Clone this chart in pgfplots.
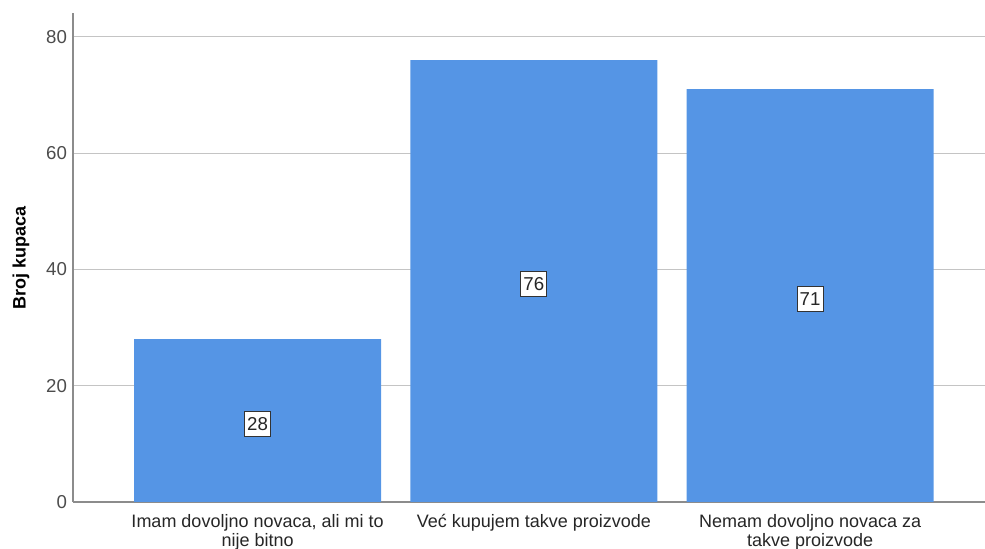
\documentclass[border=0pt]{standalone}
\usepackage{pgfplots}
\pgfplotsset{compat=1.18}
\usepackage{fontspec}
\setmainfont{Liberation Sans}
\definecolor{barblue}{HTML}{5595E5}
\definecolor{gridgray}{HTML}{C4C4C4}
\definecolor{axisgray}{HTML}{8C8C8C}

\begin{document}
\begin{tikzpicture}
\useasboundingbox (-54.75pt,-35.25pt) rectangle (684pt,376.5pt);
\begin{axis}[
  scale only axis,
  width=684pt, height=366.75pt,
  xmin=-0.668, xmax=2.633,
  ymin=0, ymax=84.1,
  axis lines*=left,
  axis line style={axisgray, line width=1pt},
  /pgf/number format/assume math mode=true,
  xtick={0,1,2},
  xticklabels={{Imam dovoljno novaca, ali mi to\\nije bitno},
               {Već kupujem takve proizvode},
               {Nemam dovoljno novaca za\\takve proizvode}},
  xticklabel style={align=center, font=\fontsize{13.5}{14.2}\selectfont, text=black!85, yshift=-5.5pt},
  ytick={0,20,40,60,80},
  yticklabel style={font=\fontsize{14}{14}\selectfont, text=black!70, xshift=-1pt},
  major tick length=0pt,
  ymajorgrids,
  grid style={gridgray, line width=0.8pt},
  ylabel={Broj kupaca},
  ylabel style={font=\fontsize{13.5}{13.5}\selectfont\bfseries, at={(axis description cs:-0.057,0.5)}, anchor=center},
]
\addplot[ybar, bar width=0.894, bar shift=0, fill=barblue, draw=none]
  coordinates {(0,28) (1,76) (2,71)};
\addplot[draw=none, mark=none, nodes near coords, point meta=explicit symbolic,
  nodes near coords style={anchor=center, fill=white, draw=black!80, line width=0.8pt,
    inner xsep=2pt, inner ysep=4.5pt, font=\fontsize{14}{14}\selectfont, text=black!85}]
  coordinates {(0,13.4)[28] (1,37.5)[76] (2,34.9)[71]};
\end{axis}
\end{tikzpicture}
\end{document}
